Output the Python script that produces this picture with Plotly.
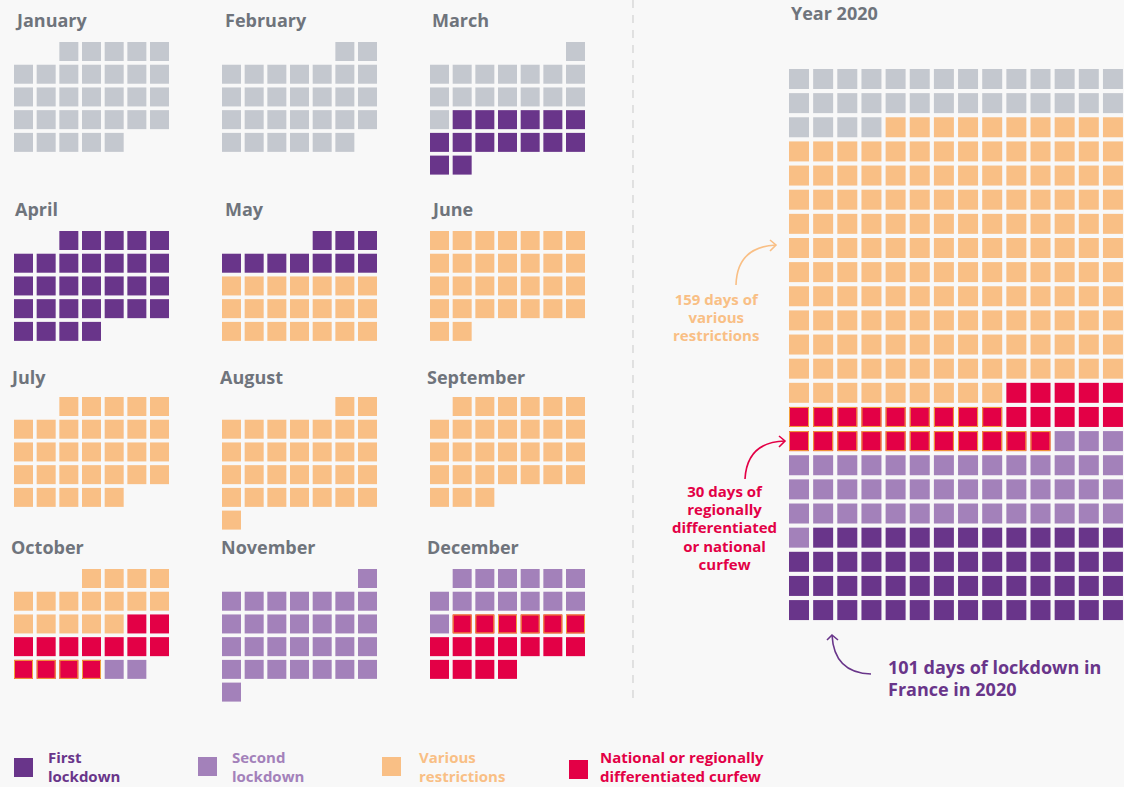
import plotly.graph_objects as go

# ---------------- data ----------------
category_names = ["none", "first", "second", "restr", "curfew"]
category_colors = ["#c4c8cf", "#69358a", "#a381ba", "#f9bf85", "#e30046"]

month_names = ["January", "February", "March", "April", "May", "June",
               "July", "August", "September", "October", "November", "December"]
# weekday column (0 = Monday) of the 1st of each month, as drawn
month_first_weekday = [2, 5, 6, 2, 4, 0, 2, 5, 1, 3, 6, 1]
# runs of (category, number of days) for each month
month_runs = [
    [("none", 31)],
    [("none", 29)],
    [("none", 16), ("first", 15)],
    [("first", 30)],
    [("first", 10), ("restr", 21)],
    [("restr", 30)],
    [("restr", 31)],
    [("restr", 31)],
    [("restr", 30)],
    [("restr", 16), ("curfew", 13), ("second", 2)],
    [("second", 30)],
    [("second", 14), ("curfew", 17)],
]
# days drawn with a thin orange outline
month_outlined_days = {"October": [26, 27, 28, 29],
                       "December": [15, 16, 17, 18, 19, 20]}

year_title = "Year 2020"
year_runs = [("none", 32), ("restr", 159), ("curfew", 30), ("second", 46), ("first", 55)]
year_columns = 14
# row number (1-based) -> number of leading cells drawn with an orange outline
year_outlined = {15: 9, 16: 11}

legend_items = [("first", ["First", "lockdown"]),
                ("second", ["Second", "lockdown"]),
                ("restr", ["Various", "restrictions"]),
                ("curfew", ["National or regionally", "differentiated curfew"])]

note_restr = ["159 days of", "various", "restrictions"]
note_curfew = ["30 days of", "regionally", "differentiated", "or national", "curfew"]
note_lockdown = ["101 days of lockdown in", "France in 2020"]

# ---------------- layout constants ----------------
W, H = 1124, 787
BG = "#f8f8f8"
TITLE_COLOR = "#6f747c"
FONT = "Open Sans"
color_of = dict(zip(category_names, category_colors))

M_SIZE = 19
M_STEP_X = 22.67
M_STEP_Y = 22.72
M_COL_LEFT = [14, 222, 430]
M_ROW_TOP = [42, 231, 397, 569]
M_TITLE_BASE = [27, 216, 384, 554]
M_TITLE_X = [[14, 224, 431], [14, 224, 430], [9, 219, 426], [10, 220, 426]]

Y_SIZE = 20
Y_LEFT = 789
Y_TOP = 69
Y_STEP_X = 24.15
Y_STEP_Y = 24.14

fig = go.Figure()
annotations = []
shapes = []


def text_block(x, mid_baseline, lines, size, color, spacing, anchor="left"):
    """One annotation; line spacing set through the base font size (1.3 em per line)."""
    base = spacing / 1.3
    body = "<br>".join('<span style="font-size:%gpx"><b>%s</b></span>' % (size, t) for t in lines)
    annotations.append(dict(
        x=x, y=mid_baseline - 0.39 * size, xref="x", yref="y", text=body,
        showarrow=False, xanchor=anchor, yanchor="middle", align=anchor,
        font=dict(family=FONT, size=base, color=color), borderpad=0))


# month cells
cells = {c: ([], []) for c in category_names}
outl_x, outl_y = [], []
for m, name in enumerate(month_names):
    gr, gc = divmod(m, 3)
    left = M_COL_LEFT[gc]
    top = M_ROW_TOP[gr]
    pos = month_first_weekday[m]
    day = 1
    for cat, n in month_runs[m]:
        for _ in range(n):
            r, c = divmod(pos, 7)
            cx = left + c * M_STEP_X + M_SIZE / 2
            cy = top + r * M_STEP_Y + M_SIZE / 2
            cells[cat][0].append(cx)
            cells[cat][1].append(cy)
            if day in month_outlined_days.get(name, []):
                outl_x.append(cx)
                outl_y.append(cy)
            pos += 1
            day += 1
    text_block(M_TITLE_X[gr][gc], M_TITLE_BASE[gr], [name], 18, TITLE_COLOR, 23.4)

for cat in category_names:
    xs, ys = cells[cat]
    fig.add_trace(go.Scatter(x=xs, y=ys, mode="markers", hoverinfo="skip",
                             marker=dict(symbol="square", size=M_SIZE, color=color_of[cat],
                                         line=dict(width=0))))
fig.add_trace(go.Scatter(x=outl_x, y=outl_y, mode="markers", hoverinfo="skip",
                         marker=dict(symbol="square", size=M_SIZE - 1, color=color_of["curfew"],
                                     line=dict(width=1, color="#f2a13a"))))

# year grid
ycells = {c: ([], []) for c in category_names}
yo_x, yo_y = [], []
idx = 0
for cat, n in year_runs:
    for _ in range(n):
        r, c = divmod(idx, year_columns)
        cx = Y_LEFT + c * Y_STEP_X + Y_SIZE / 2
        cy = Y_TOP + r * Y_STEP_Y + Y_SIZE / 2
        ycells[cat][0].append(cx)
        ycells[cat][1].append(cy)
        if c < year_outlined.get(r + 1, 0):
            yo_x.append(cx)
            yo_y.append(cy)
        idx += 1
for cat in category_names:
    xs, ys = ycells[cat]
    fig.add_trace(go.Scatter(x=xs, y=ys, mode="markers", hoverinfo="skip",
                             marker=dict(symbol="square", size=Y_SIZE, color=color_of[cat],
                                         line=dict(width=0))))
fig.add_trace(go.Scatter(x=yo_x, y=yo_y, mode="markers", hoverinfo="skip",
                         marker=dict(symbol="square", size=Y_SIZE - 1, color=color_of["curfew"],
                                     line=dict(width=1, color="#f2a13a"))))
text_block(790, 20, [year_title], 18, TITLE_COLOR, 23.4)

# legend
leg_sq_x = [14, 198, 382, 569]
leg_sq_y = [758, 757, 757, 760]
leg_txt_x = [47, 231, 418, 599]
for i, (cat, lines) in enumerate(legend_items):
    fig.add_trace(go.Scatter(x=[leg_sq_x[i] + 9.5], y=[leg_sq_y[i] + 9.5], mode="markers",
                             hoverinfo="skip",
                             marker=dict(symbol="square", size=19, color=color_of[cat],
                                         line=dict(width=0))))
    text_block(leg_txt_x[i], 772.7, lines, 15, color_of[cat], 18.9)

# notes
text_block(715.5, 322.5, note_restr, 15, color_of["restr"], 18.2, anchor="center")
text_block(724, 533.6, note_curfew, 15, color_of["curfew"], 18.2, anchor="center")
text_block(887, 684.6, note_lockdown, 18, color_of["first"], 21.8)

# arrows
def add_path(path, color):
    shapes.append(dict(type="path", path=path, xref="x", yref="y",
                       line=dict(color=color, width=1.6)))

add_path("M 736,285 Q 737,247 776,245", color_of["restr"])
add_path("M 770,240 L 776,245 L 770,251", color_of["restr"])
add_path("M 745,479 Q 747,442 785,441", color_of["curfew"])
add_path("M 779,436 L 785,441 L 779,447", color_of["curfew"])
add_path("M 871,674 Q 834,673 832,635", color_of["first"])
add_path("M 827,640 L 832,635 L 838,640", color_of["first"])

# dashed separator
shapes.append(dict(type="line", x0=633, x1=633, y0=0, y1=701, xref="x", yref="y",
                   line=dict(color="#c9c9c9", width=1, dash="8px,7px")))

fig.update_layout(
    width=W, height=H, margin=dict(l=0, r=0, t=0, b=0),
    paper_bgcolor=BG, plot_bgcolor=BG, showlegend=False,
    xaxis=dict(range=[0, W], visible=False, fixedrange=True),
    yaxis=dict(range=[H, 0], visible=False, fixedrange=True),
    annotations=annotations, shapes=shapes,
)
fig.write_html(
    "out.html",
    config={"displayModeBar": False},
    post_script="document.body.style.margin='0';document.body.style.overflow='hidden';"
                "document.body.style.background='%s';" % BG,
)
